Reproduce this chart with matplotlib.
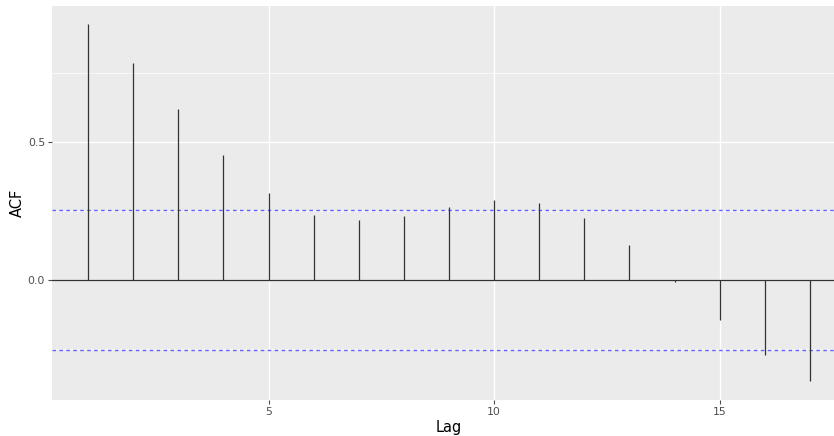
import matplotlib.pyplot as plt
import numpy as np

# ACF values
lags = np.arange(1, 18)
acf = [0.928, 0.786, 0.620, 0.453, 0.315, 0.236, 0.217, 0.232, 0.264,
       0.290, 0.279, 0.225, 0.127, -0.007, -0.145, -0.272, -0.366]
ci = 0.254

W, H = 834, 436
fig = plt.figure(figsize=(W / 100, H / 100), dpi=100)
# panel runs past the right edge, as in the cropped reference
ax = fig.add_axes([52 / W, 1 - 400 / H, (846 - 52) / W, (400 - 6) / H])
ax.set_facecolor('#EBEBEB')
for s in ax.spines.values():
    s.set_visible(False)

ax.set_xlim(0.2, 17.8)
ax.set_ylim(-0.435, 0.993)

# grid
for y in [-0.25, 0.25, 0.75]:
    ax.axhline(y, color='white', lw=0.5, zorder=0)
for y in [0.0, 0.5]:
    ax.axhline(y, color='white', lw=1.0, zorder=0)
for x in [5, 10, 15]:
    ax.axvline(x, color='white', lw=1.0, zorder=0)

ax.axhline(0, color='#333333', lw=0.9, zorder=2)
ax.vlines(lags, 0, acf, color='#333333', lw=0.9, zorder=3)
for c in [ci, -ci]:
    ax.axhline(c, color='#6060FF', lw=1.0, ls=(0, (2.5, 2.5)), zorder=2)

ax.set_xticks([5, 10, 15])
ax.set_yticks([0.0, 0.5])
ax.set_yticklabels(['0.0', '0.5'])
ax.tick_params(colors='#4D4D4D', labelsize=7.8, length=3, width=0.8,
               labelcolor='#4D4D4D', pad=2)
ax.set_xlabel('Lag', fontsize=10.5, labelpad=2)
ax.set_ylabel('ACF', fontsize=10.5, labelpad=2)

fig.savefig('out.png', dpi=100)
